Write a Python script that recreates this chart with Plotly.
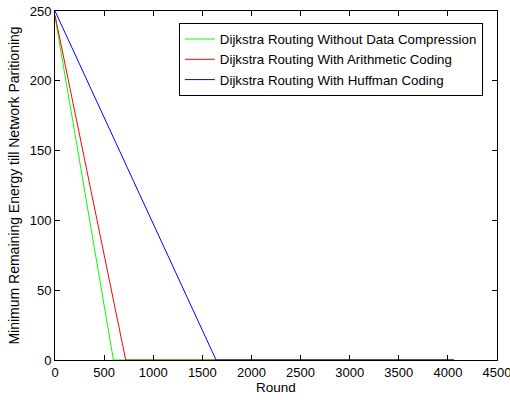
import plotly.graph_objects as go

# Round numbers and minimum remaining energy for each routing variant
rounds_plain = [0, 595, 4060]
energy_plain = [246, 0, 0]
rounds_arith = [0, 720, 4060]
energy_arith = [247, 0, 0]
rounds_huff = [0, 1640, 4060]
energy_huff = [250, 0, 0]

names = [
    "Dijkstra Routing Without Data Compression",
    "Dijkstra Routing With Arithmetic Coding",
    "Dijkstra Routing With Huffman Coding",
]
colors = ["#00ff00", "#ff0000", "#0000ff"]

fig = go.Figure()
for xs, ys, name, c in zip(
    [rounds_plain, rounds_arith, rounds_huff],
    [energy_plain, energy_arith, energy_huff],
    names,
    colors,
):
    fig.add_trace(go.Scatter(x=xs, y=ys, mode="lines", name=name,
                             line=dict(color=c, width=1)))

axis_common = dict(
    showline=True, linecolor="black", linewidth=1, mirror="ticks",
    ticks="inside", ticklen=5, tickcolor="black", showgrid=False,
    zeroline=False, tickfont=dict(size=13, color="black"),
    ticklabeloverflow="allow", automargin=False,
)

fig.update_layout(
    width=510, height=400,
    margin=dict(l=55, r=13, t=11, b=40),
    paper_bgcolor="white", plot_bgcolor="white",
    font=dict(family="Liberation Sans, Arial", size=13, color="black"),
    showlegend=True,
    legend=dict(x=0.968, y=0.966, xanchor="right", yanchor="top",
                bgcolor="white", bordercolor="black", borderwidth=1,
                font=dict(size=13.3), tracegroupgap=0, itemwidth=30),
    xaxis=dict(range=[0, 4500], tickvals=list(range(0, 4501, 500)),
               title=dict(text="Round", standoff=3, font=dict(size=13.5)),
               **axis_common),
    yaxis=dict(range=[0, 250], tickvals=list(range(0, 251, 50)),
               title=dict(text="Minimum Remaining Energy till Network Paritioning",
                          standoff=6, font=dict(size=14)),
               **axis_common),
)

fig.write_html("out.html")
